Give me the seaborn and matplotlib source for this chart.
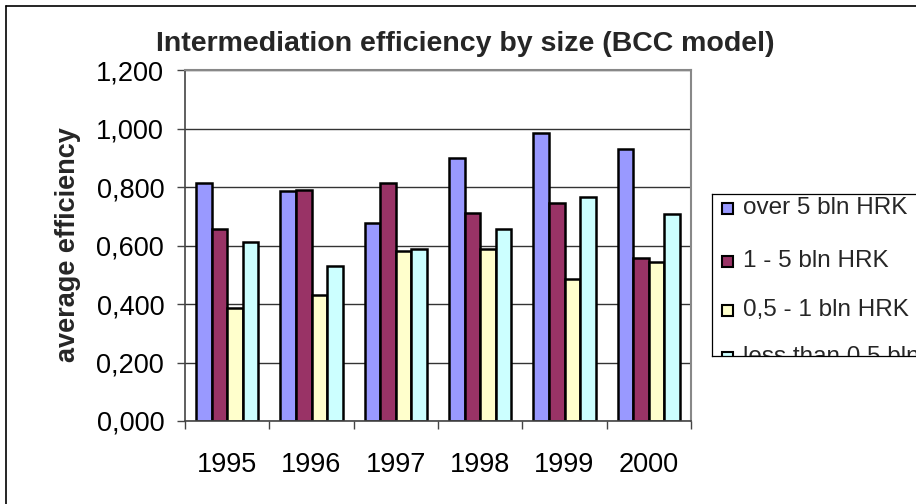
import pandas as pd
import matplotlib.pyplot as plt
import seaborn as sns
from matplotlib.lines import Line2D
from matplotlib.patches import Rectangle
from matplotlib.ticker import FuncFormatter, FixedLocator

# Data
years = ["1995", "1996", "1997", "1998", "1999", "2000"]
size_groups = ["over 5 bln HRK", "1 - 5 bln HRK", "0,5 - 1 bln HRK", "less than 0,5 bln HRK"]
over_5 = [0.813, 0.788, 0.677, 0.898, 0.983, 0.931]
from_1_to_5 = [0.655, 0.790, 0.815, 0.712, 0.746, 0.558]
from_05_to_1 = [0.386, 0.432, 0.581, 0.588, 0.484, 0.544]
below_05 = [0.611, 0.530, 0.588, 0.656, 0.765, 0.708]
colors = ["#9999FF", "#993366", "#FFFFCC", "#CCFFFF"]

W, H = 916, 504

df = pd.DataFrame({"year": years * 4,
                   "group": [g for g in size_groups for _ in years],
                   "value": over_5 + from_1_to_5 + from_05_to_1 + below_05})

sns.set_theme(style="white")
plt.rcParams['font.family'] = ['Liberation Sans', 'DejaVu Sans']

fig = plt.figure(figsize=(W / 100, H / 100), dpi=100)
ax = fig.add_axes([185 / W, 1 - 421 / H, (691 - 185) / W, (421 - 70) / H])

sns.barplot(data=df, x="year", y="value", hue="group", hue_order=size_groups,
            palette=colors, width=0.74, gap=0, edgecolor="black", linewidth=1.8,
            saturation=1, legend=False, ax=ax)

ax.set_xlim(-0.5, len(years) - 0.5)
ax.set_ylim(0, 1.2)
ax.set_yticks([0, 0.2, 0.4, 0.6, 0.8, 1.0, 1.2])
ax.yaxis.set_major_formatter(FuncFormatter(lambda v, p: f"{v:.3f}".replace(".", ",")))
ax.set_xlabel("")
ax.set_ylabel("")
ax.set_axisbelow(True)
ax.yaxis.grid(True, color="#333333", linewidth=1.0)

for side in ["top", "right"]:
    ax.spines[side].set_color("#888888")
    ax.spines[side].set_linewidth(1.5)
for side in ["left", "bottom"]:
    ax.spines[side].set_color("#444444")
    ax.spines[side].set_linewidth(1.2)

ax.tick_params(axis="y", direction="out", length=6, width=1, color="#444444",
               left=True, labelsize=19.5, pad=9, labelcolor="black")
ax.xaxis.set_minor_locator(FixedLocator([i - 0.5 for i in range(len(years) + 1)]))
ax.tick_params(axis="x", which="minor", direction="out", length=6, width=1,
               color="#444444", bottom=True)
ax.tick_params(axis="x", which="major", length=0, labelsize=19.5, pad=22, labelcolor="black")

fig.text(465 / W, 1 - 44 / H, "Intermediation efficiency by size (BCC model)",
         ha="center", va="center", fontsize=20.5, fontweight="bold")
fig.text(68 / W, 1 - 245 / H, "average efficiency", rotation=90,
         ha="center", va="center", fontsize=19.5, fontweight="bold")

# Legend box, clipped by the figure edge and its own bottom border like the original
lx0, ly0, ly1 = 712, 194, 356
lax = fig.add_axes([lx0 / W, 1 - ly1 / H, 260 / W, (ly1 - ly0) / H])
lax.set_xlim(lx0, lx0 + 260)
lax.set_ylim(ly1, ly0)
lax.set_xticks([])
lax.set_yticks([])
for s in lax.spines.values():
    s.set_color("black")
    s.set_linewidth(0.9)
row_y = [208, 261, 310, 357]
for name, col, yy in zip(size_groups, colors, row_y):
    lax.add_patch(Rectangle((722, yy - 5.5), 11, 11, facecolor=col, edgecolor="black",
                            linewidth=1.5, clip_on=True))
    lax.text(743, yy, name, ha="left", va="center", fontsize=17.5, clip_on=True)

# Outer chart frame (only top and left edges fall inside the picture)
fig.add_artist(Line2D([6 / W, 6 / W], [0, 1 - 6 / H], color="black", linewidth=1.2))
fig.add_artist(Line2D([6 / W, 1], [1 - 6 / H, 1 - 6 / H], color="black", linewidth=1.2))

fig.savefig("out.png", dpi=100)
